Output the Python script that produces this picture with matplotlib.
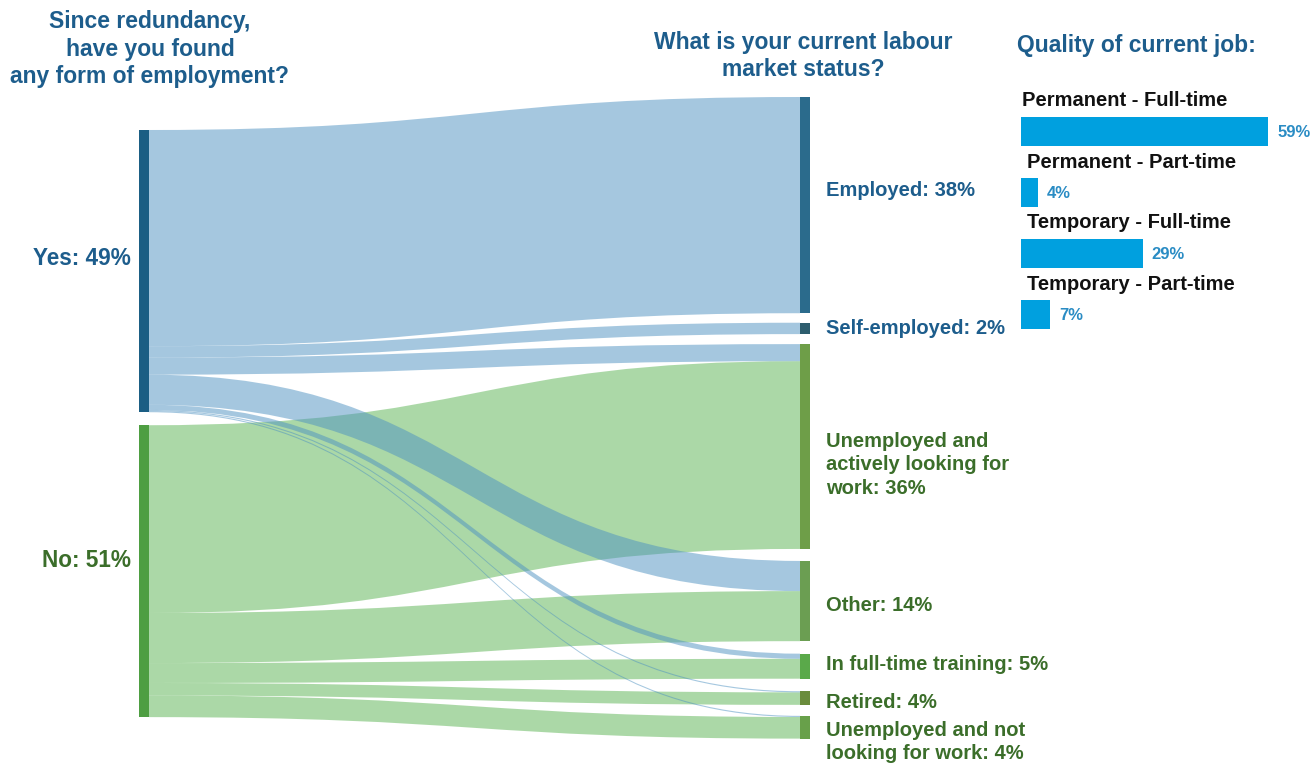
import matplotlib.pyplot as plt
from matplotlib.path import Path
from matplotlib.patches import PathPatch, Rectangle

plt.rcParams['font.family'] = ['Liberation Sans', 'DejaVu Sans']
plt.rcParams['font.weight'] = 'bold'

# share of respondents (%), source -> target
sources = ["Yes: 49%", "No: 51%"]
targets = ["Employed: 38%", "Self-employed: 2%",
           "Unemployed and\nactively looking for\nwork: 36%", "Other: 14%",
           "In full-time training: 5%", "Retired: 4%",
           "Unemployed and not\nlooking for work: 4%"]
yes_flows = [38, 2, 3, 5.3, 0.9, 0.2, 0.2]
no_flows = [0, 0, 33, 8.8, 3.5, 2.2, 3.8]

job_types = ["Permanent - Full-time", "Permanent - Part-time",
             "Temporary - Full-time", "Temporary - Part-time"]
job_share = [59, 4, 29, 7]

BLUE_TXT = "#1d5d8c"
GREEN_TXT = "#3b6e2a"
src_colors = ["#1b5e84", "#4e9e42"]
tgt_colors = ["#2b6b8c", "#2d5d6e", "#6e9e48", "#6b9e52", "#5aa94a", "#6a8c3c", "#68a04a"]
link_colors = [(77/255, 145/255, 193/255, 0.5), (89/255, 179/255, 81/255, 0.5)]
tgt_text = [BLUE_TXT, BLUE_TXT] + [GREEN_TXT] * 5

fig = plt.figure(figsize=(13.12, 7.65), dpi=100)
ax = fig.add_axes([0, 0, 1, 1])
ax.set_xlim(0, 1312)
ax.set_ylim(765, 0)
ax.axis("off")

# sankey layout (pixel units)
scale = 5.69
x_left, x_right, node_w = 139, 800, 10
flows = [yes_flows, no_flows]

src_tot = [sum(f) for f in flows]
src_top = []
y = 130
for t in src_tot:
    src_top.append(y)
    y += t * scale + 13

tgt_tot = [a + b for a, b in zip(yes_flows, no_flows)]
tgt_gaps = [9.5, 10, 12, 12.5, 12.5, 11, 0]
tgt_top = []
y = 97
for t, g in zip(tgt_tot, tgt_gaps):
    tgt_top.append(y)
    y += t * scale + g


def band(x0, y0a, y0b, x1, y1a, y1b, color):
    xm = (x0 + x1) / 2
    verts = [(x0, y0a), (xm, y0a), (xm, y1a), (x1, y1a),
             (x1, y1b), (xm, y1b), (xm, y0b), (x0, y0b), (x0, y0a)]
    codes = [Path.MOVETO, Path.CURVE4, Path.CURVE4, Path.CURVE4,
             Path.LINETO, Path.CURVE4, Path.CURVE4, Path.CURVE4, Path.CLOSEPOLY]
    ax.add_patch(PathPatch(Path(verts, codes), fc=color, ec="none"))


# stacking offsets at each node
src_off = list(src_top)
tgt_off = list(tgt_top)
links = []
for s in range(2):
    for t, v in enumerate(flows[s]):
        if v <= 0:
            continue
        h = v * scale
        links.append((s, src_off[s], src_off[s] + h, tgt_off[t], tgt_off[t] + h))
        src_off[s] += h
        tgt_off[t] += h

# green links underneath, blue links on top
for s, a0, a1, b0, b1 in sorted(links, key=lambda l: -l[0]):
    band(x_left + node_w, a0, a1, x_right, b0, b1, link_colors[s])

for i, (top, tot) in enumerate(zip(src_top, src_tot)):
    ax.add_patch(Rectangle((x_left, top), node_w, tot * scale, fc=src_colors[i], ec="none"))
for i, (top, tot) in enumerate(zip(tgt_top, tgt_tot)):
    ax.add_patch(Rectangle((x_right, top), node_w, tot * scale, fc=tgt_colors[i], ec="none"))

# node labels
src_dy = [-13, -11]
for i, name in enumerate(sources):
    yc = src_top[i] + src_tot[i] * scale / 2 + src_dy[i]
    ax.text(x_left - 8, yc, name, ha="right", va="center", fontsize=16.3,
            color=[BLUE_TXT, GREEN_TXT][i])

tgt_dy = [-15, 0, 18, 4, -2, 4, 15]
for i, name in enumerate(targets):
    yc = tgt_top[i] + tgt_tot[i] * scale / 2 + tgt_dy[i]
    ax.text(x_right + 26, yc, name, ha="left", va="center", fontsize=14.5,
            color=tgt_text[i], linespacing=1.3)

ax.text(150, 49, "Since redundancy,\nhave you found\nany form of employment?",
        ha="center", va="center", fontsize=16.5, color=BLUE_TXT, linespacing=1.25)
ax.text(803, 56, "What is your current labour\nmarket status?",
        ha="center", va="center", fontsize=16.5, color=BLUE_TXT, linespacing=1.25)
ax.text(1017, 45, "Quality of current job:", ha="left", va="center",
        fontsize=16.5, color=BLUE_TXT)

# job quality bars
bx = fig.add_axes([1021 / 1312, 1 - 345 / 765, 419 / 1312, 244 / 765])
bx.set_xlim(0, 100)
bx.set_ylim(3.5, -0.5)
bx.axis("off")
ypos = list(range(len(job_types)))
bx.barh(ypos, job_share, height=0.475, color="#00a0df", edgecolor="none")
lab_x = [0.3, 1.4, 1.4, 1.4]
for i, (lab, v) in enumerate(zip(job_types, job_share)):
    bx.text(lab_x[i], i - 0.5, lab, ha="left", va="center", fontsize=14.5,
            color="#111111", clip_on=False)
    bx.text(v + 2.2, i + 0.02, f"{v}%", ha="left", va="center", fontsize=12,
            color="#2a8cc4", clip_on=False)

fig.savefig("out.png", dpi=100)
